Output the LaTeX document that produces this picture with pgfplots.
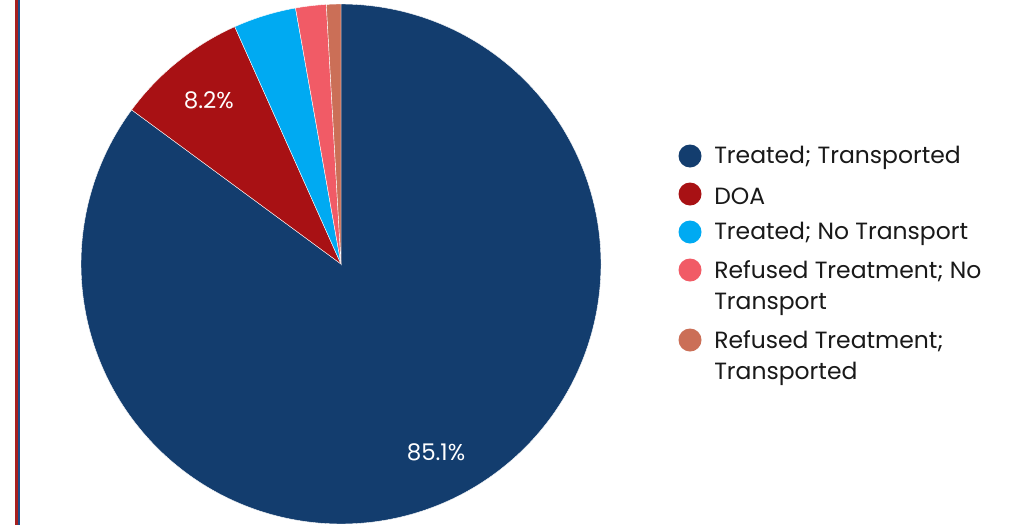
\documentclass[border=0pt]{standalone}
\usepackage{pgfplots}
\pgfplotsset{compat=1.18}
\usepackage{fontspec}
\setmainfont{Poppins}
\definecolor{cA}{HTML}{133D6E}
\definecolor{cB}{HTML}{A81114}
\definecolor{cC}{HTML}{00AAF2}
\definecolor{cD}{HTML}{F15B66}
\definecolor{cE}{HTML}{CB6F57}
\definecolor{lineR}{HTML}{A8201F}
\definecolor{lineB}{HTML}{1F4E8C}
\def\vA{85.1}
\def\vB{8.2}
\def\vC{3.9}
\def\vD{1.9}
\def\vE{0.9}
\begin{document}
\begin{tikzpicture}[x=0.75pt,y=0.75pt]
\useasboundingbox (0,0) rectangle (1016,-525);
\fill[white] (0,0) rectangle (1016,-525);
\fill[lineR] (15,0) rectangle (17.5,-525);
\fill[lineB] (17.5,0) rectangle (19.5,-525);
\pgfmathsetmacro\aA{90}
\pgfmathsetmacro\aB{\aA-3.6*\vA}
\pgfmathsetmacro\aC{\aB-3.6*\vB}
\pgfmathsetmacro\aD{\aC-3.6*\vC}
\pgfmathsetmacro\aE{\aD-3.6*\vD}
\pgfmathsetmacro\aF{\aE-3.6*\vE}
\pgfmathsetmacro\mA{(\aA+\aB)/2}
\pgfmathsetmacro\mB{(\aB+\aC)/2}
\begin{axis}[at={(255.75pt,-198pt)}, anchor=center, scale only axis, width=390pt, height=390pt,
  xmin=-1, xmax=1, ymin=-1, ymax=1, hide axis, clip=false]
\addplot[fill=cA, draw=white, line width=0.3pt, domain=\aB:\aA, samples=300] ({cos(x)},{sin(x)}) -- (axis cs:0,0) -- cycle;
\addplot[fill=cB, draw=white, line width=0.3pt, domain=\aC:\aB, samples=60] ({cos(x)},{sin(x)}) -- (axis cs:0,0) -- cycle;
\addplot[fill=cC, draw=white, line width=0.3pt, domain=\aD:\aC, samples=40] ({cos(x)},{sin(x)}) -- (axis cs:0,0) -- cycle;
\addplot[fill=cD, draw=white, line width=0.3pt, domain=\aE:\aD, samples=30] ({cos(x)},{sin(x)}) -- (axis cs:0,0) -- cycle;
\addplot[fill=cE, draw=white, line width=0.3pt, domain=\aF:\aE, samples=20] ({cos(x)},{sin(x)}) -- (axis cs:0,0) -- cycle;
\node[white, font=\fontsize{17.2}{18}\selectfont] at (axis cs:{0.81*cos(\mA)},{0.81*sin(\mA)}) {85.1\%};
\node[white, font=\fontsize{17.2}{18}\selectfont] at (axis cs:{0.81*cos(\mB)},{0.81*sin(\mB)}) {8.2\%};
\end{axis}
\begin{scope}[every node/.style={anchor=west, align=left, inner sep=0pt, text=black!90, font=\fontsize{17.6}{23.3}\selectfont}]
\fill[cA] (690,-156) circle (11.5);
\node at (714,-158) {Treated; Transported};
\fill[cB] (690,-194) circle (11.5);
\node at (714,-196) {DOA};
\fill[cC] (690,-232) circle (11.5);
\node at (714,-234) {Treated; No Transport};
\fill[cD] (690,-270) circle (11.5);
\node[anchor=north west] at (714,-260) {Refused Treatment; No\\Transport};
\fill[cE] (690,-340) circle (11.5);
\node[anchor=north west] at (714,-330) {Refused Treatment;\\Transported};
\end{scope}
\end{tikzpicture}
\end{document}
